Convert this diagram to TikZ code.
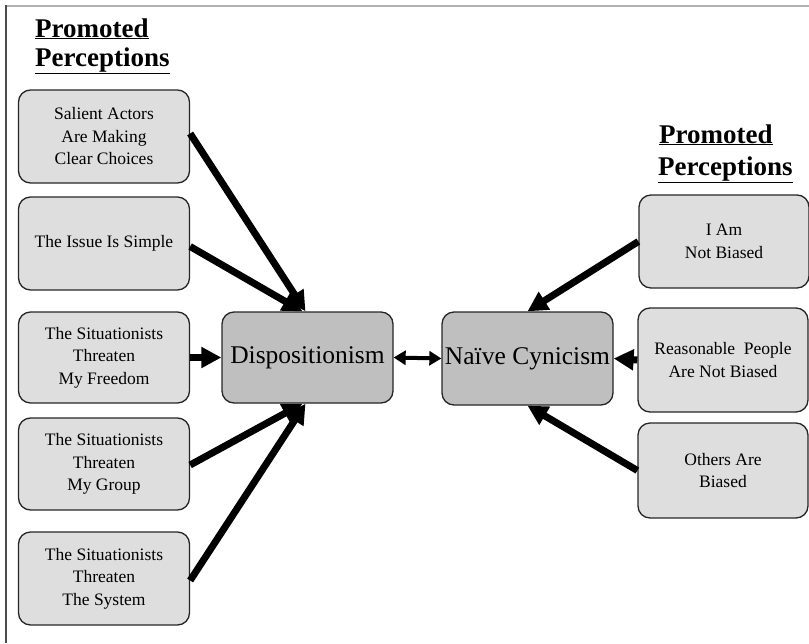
\documentclass[tikz,border=0pt]{standalone}
\usepackage{fontspec}
\setmainfont{Liberation Serif}
\usetikzlibrary{arrows.meta}
\definecolor{lightbox}{gray}{0.87}
\definecolor{darkbox}{gray}{0.75}
\begin{document}
\begin{tikzpicture}[x=1pt,y=-1pt,
  smallbox/.style={draw=black!85, line width=1.3pt, rounded corners=12pt, fill=lightbox,
    minimum width=171pt, minimum height=93pt, align=center, inner sep=0pt,
    font=\fontsize{17.5}{22.5}\selectfont},
  bigbox/.style={smallbox, fill=darkbox, font=\fontsize{25.5}{30}\selectfont},
  arr/.style={line width=7pt, -{Triangle[length=20pt,width=20pt]}},
  dblarr/.style={line width=4pt, {Triangle[length=12pt,width=14pt]}-{Triangle[length=12pt,width=14pt]}},
  titletext/.style={font=\fontsize{27}{31}\selectfont\bfseries, anchor=base west, inner sep=0pt}]
\useasboundingbox (0,0) rectangle (809,643);
% frame
\draw[gray!60, line width=2pt] (5,6) -- (809,6);
\draw[black!70, line width=1.5pt] (6,5) -- (6,643);
% titles
\node[titletext] (tl1) at (35,37) {\underline{Promoted}};
\node[titletext] (tl2) at (35,66) {\underline{Perceptions}};
\node[titletext] (tr1) at (659,143) {\underline{Promoted}};
\node[titletext] (tr2) at (658,175) {\underline{Perceptions}};
% left boxes
\node[smallbox] (L1) at (104,136.5) {Salient Actors\\Are Making\\Clear Choices};
\node[smallbox] (L2) at (104,243.5) {The Issue Is Simple};
\node[smallbox, minimum height=91pt] (L3) at (104,357.5) {The Situationists\\Threaten\\My Freedom};
\node[smallbox, minimum height=92pt] (L4) at (104,464) {The Situationists\\Threaten\\My Group};
\node[smallbox] (L5) at (104,578.5) {The Situationists\\Threaten\\The System};
% center boxes
\node[bigbox, minimum height=91pt] (D) at (307.5,357.5) {Dispositionism};
\node[bigbox] (N) at (527.5,358.5) {Naïve Cynicism};
% right boxes
\node[smallbox, minimum width=170pt] (R1) at (724,241.5) {I Am\\Not Biased};
\node[smallbox, minimum width=170pt, minimum height=104pt] (R2) at (723,360) {Reasonable\ \ People\\Are Not Biased};
\node[smallbox, minimum width=170pt, minimum height=95pt] (R3) at (723,470.5) {Others Are\\Biased};
% arrows
\draw[arr] ([yshift=3pt]L1.east) -- ([xshift=-2pt]D.north);
\draw[arr] ([yshift=-3pt]L2.east) -- ([xshift=-5pt]D.north);
\draw[arr] (L3.east) -- (D.west);
\draw[arr] ([yshift=-1pt]L4.east) -- ([xshift=-5pt]D.south);
\draw[arr] ([yshift=-2pt]L5.east) -- ([xshift=-2pt]D.south);
\draw[arr] (R1.west) -- (N.north);
\draw[arr] (R2.west) -- (N.east);
\draw[arr] (R3.west) -- (N.south);
\draw[dblarr] (D.east) -- (N.west);
\end{tikzpicture}
\end{document}
